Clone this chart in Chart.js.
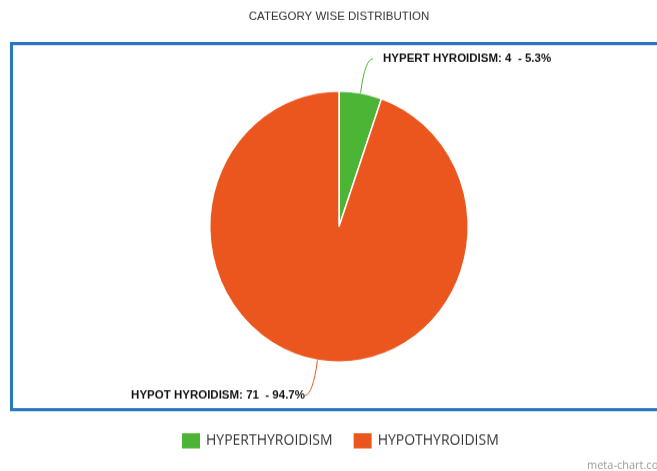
<!DOCTYPE html>
<html>
<head>
<meta charset="utf-8">
<title>Category Wise Distribution</title>
<script src="https://cdn.jsdelivr.net/npm/chart.js@4"></script>
<style>
    html, body { margin: 0; padding: 0; background: #fff; overflow: hidden; }
    #pie { display: block; }
</style>
</head>
<body>
<canvas id="pie" width="657" height="449" style="width:657px;height:471px"></canvas>
<script>
// Chart data
const categories = ['HYPERTHYROIDISM', 'HYPOTHYROIDISM'];
const calloutNames = ['HYPERT HYROIDISM', 'HYPOT HYROIDISM'];
const counts = [4, 71];
const sliceColors = ['#4cb535', '#eb561e'];
const chartTitle = 'CATEGORY WISE DISTRIBUTION';

const total = counts.reduce((a, b) => a + b, 0);

// Frame, title, callouts and legend drawn around the pie
const decorations = {
    id: 'decorations',
    beforeDatasetsDraw(chart) {
        const ctx = chart.ctx;
        ctx.save();
        ctx.strokeStyle = '#2878c2';
        ctx.lineWidth = 3;
        ctx.strokeRect(11.5, 41.5, 660, 349);
        ctx.restore();
    },
    afterDraw(chart) {
        const ctx = chart.ctx;
        const meta = chart.getDatasetMeta(0);
        ctx.save();

        // title
        ctx.fillStyle = '#333';
        ctx.font = '11.5px Arial, "Liberation Sans", sans-serif';
        ctx.textAlign = 'center';
        ctx.textBaseline = 'middle';
        ctx.fillText(chartTitle, 339, 16);

        // callouts
        meta.data.forEach((arc, i) => {
            const p = arc.getProps(['x', 'y', 'startAngle', 'endAngle', 'outerRadius'], true);
            const mid = (p.startAngle + p.endAngle) / 2;
            const dx = Math.cos(mid), dy = Math.sin(mid);
            const sx = p.x + dx * p.outerRadius, sy = p.y + dy * p.outerRadius;
            const cx = sx + dx * 33, cy = sy + dy * 33;
            const side = dx >= 0 ? 1 : -1;
            const ex = cx + side * 7, ey = cy + (dy < 0 ? 0 : 1);
            ctx.strokeStyle = sliceColors[i];
            ctx.lineWidth = 1;
            ctx.beginPath();
            ctx.moveTo(sx, sy);
            ctx.quadraticCurveTo(cx - side, cy, ex, ey);
            ctx.stroke();

            const pct = (counts[i] / total * 100).toFixed(1);
            const text = calloutNames[i] + ': ' + counts[i] + '  - ' + pct + '%';
            ctx.fillStyle = '#111';
            ctx.font = 'bold 11.5px Arial, "Liberation Sans", sans-serif';
            ctx.textBaseline = 'middle';
            ctx.textAlign = side > 0 ? 'left' : 'right';
            ctx.fillText(text, ex + side * (side > 0 ? 10 : 0), ey);
        });

        // legend
        ctx.font = '14px "Open Sans", sans-serif';
        ctx.textAlign = 'left';
        ctx.textBaseline = 'middle';
        let x = 182;
        categories.forEach((name, i) => {
            ctx.fillStyle = sliceColors[i];
            ctx.fillRect(x, 413, 18, 14.5);
            ctx.fillStyle = '#333';
            ctx.fillText(name, x + 24, 420);
            x += 24 + ctx.measureText(name).width + 21;
        });

        // source mark
        ctx.fillStyle = '#999';
        ctx.font = '11px "Open Sans", sans-serif';
        ctx.textBaseline = 'alphabetic';
        ctx.fillText('meta-chart.com', 587, 447);
        ctx.restore();
    }
};

new Chart(document.getElementById('pie'), {
    type: 'pie',
    data: {
        labels: categories,
        datasets: [{
            data: counts,
            backgroundColor: sliceColors,
            borderColor: '#ffffff',
            borderWidth: 1.5
        }]
    },
    options: {
        responsive: false,
        animation: false,
        layout: { padding: { left: 21, right: 0, top: 86, bottom: 103 } },
        plugins: {
            legend: { display: false },
            title: { display: false },
            tooltip: { enabled: false }
        }
    },
    plugins: [decorations]
});
</script>
</body>
</html>
